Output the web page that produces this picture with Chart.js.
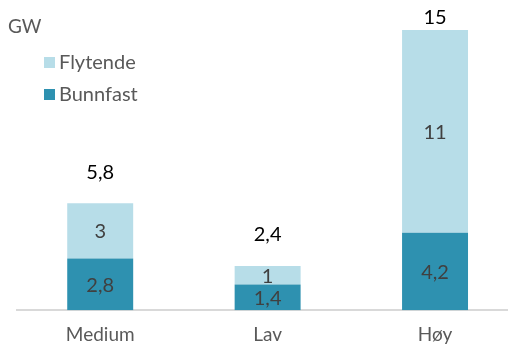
<!DOCTYPE html>
<html>
<head>
<meta charset="utf-8">
<script src="https://cdn.jsdelivr.net/npm/chart.js@4"></script>
<style>
  html, body { margin: 0; padding: 0; background: #fff; overflow: hidden; }
  #wrap { width: 520px; height: 361px; position: relative; }
</style>
</head>
<body>
<div id="wrap"><canvas id="gwChart"></canvas></div>
<script>
// --------------------
// Data (GW)
// --------------------
const scenarios = ["Medium", "Lav", "Høy"];
const bunnfast = [2.8, 1.4, 4.2];
const flytende = [3, 1, 11];
const totals = [5.8, 2.4, 15];
const unitLabel = "GW";

const FONT = "Lato, 'Open Sans', sans-serif";
const fmt = v => String(v).replace(".", ",");

// segment values inside bars, totals above each stack
const labelsPlugin = {
  id: "stackLabels",
  afterDatasetsDraw(chart) {
    const ctx = chart.ctx;
    ctx.save();
    ctx.textAlign = "center";
    ctx.textBaseline = "middle";
    ctx.font = "20px " + FONT;
    ctx.fillStyle = "#404040";
    chart.data.datasets.forEach((ds, i) => {
      chart.getDatasetMeta(i).data.forEach((bar, j) => {
        const mid = (bar.y + bar.base) / 2;
        ctx.fillText(fmt(ds.data[j]), bar.x, mid + 1);
      });
    });
    // totals
    const top = chart.getDatasetMeta(chart.data.datasets.length - 1).data;
    ctx.fillStyle = "#000";
    top.forEach((bar, j) => {
      const y = Math.max(bar.y - 31, 18);
      ctx.fillText(fmt(totals[j]), bar.x, y);
    });
    // unit + legend
    ctx.textAlign = "left";
    ctx.fillStyle = "#595959";
    ctx.font = "19px " + FONT;
    ctx.fillText(unitLabel, 8, 27);
    ctx.font = "20px " + FONT;
    const legendItems = [...chart.data.datasets].reverse();
    legendItems.forEach((ds, k) => {
      const cy = 62 + k * 32;
      ctx.fillStyle = ds.backgroundColor;
      ctx.fillRect(44, cy - 5, 11, 11);
      ctx.fillStyle = "#595959";
      ctx.fillText(ds.label, 59, cy + 1);
    });
    ctx.restore();
  }
};

new Chart(document.getElementById("gwChart"), {
  type: "bar",
  data: {
    labels: scenarios,
    datasets: [
      { label: "Bunnfast", data: bunnfast, backgroundColor: "#2e91b0" },
      { label: "Flytende", data: flytende, backgroundColor: "#b7dde8" }
    ]
  },
  options: {
    responsive: true,
    maintainAspectRatio: false,
    animation: false,
    layout: { padding: { left: 16.5, right: 1.25, top: 15.2, bottom: 2 } },
    datasets: { bar: { categoryPercentage: 1, barPercentage: 0.394 } },
    plugins: { legend: { display: false }, tooltip: { enabled: false } },
    scales: {
      x: {
        stacked: true,
        grid: { display: false, drawTicks: false },
        border: { display: true, color: "#d9d9d9", width: 2 },
        ticks: { color: "#595959", font: { family: FONT, size: 19 }, padding: 13 }
      },
      y: {
        stacked: true,
        min: 0,
        max: 16,
        display: false
      }
    }
  },
  plugins: [labelsPlugin]
});
</script>
</body>
</html>
